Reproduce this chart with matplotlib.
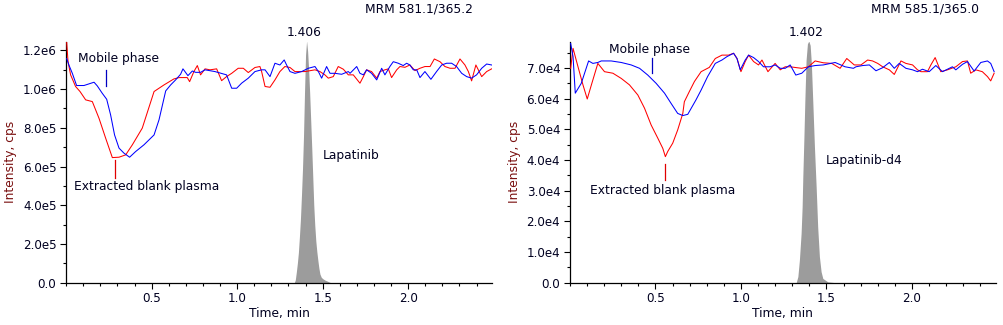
import numpy as np
import matplotlib
matplotlib.use("Agg")
import matplotlib.pyplot as plt
from matplotlib.ticker import MultipleLocator, FuncFormatter

# ---- left panel: MRM 581.1/365.2 (values in 1e5 cps) ----
lap_mp_t = [0.003, 0.016, 0.036, 0.061, 0.104, 0.163, 0.182, 0.211, 0.237, 0.260, 0.283, 0.309, 0.338, 0.371,
            0.406, 0.455, 0.514, 0.543, 0.582, 0.611, 0.640, 0.669, 0.683, 0.712, 0.738, 0.757, 0.786, 0.812,
            0.870, 0.938, 0.968, 0.997, 1.026, 1.065, 1.104, 1.143, 1.163, 1.192, 1.221, 1.250, 1.275, 1.289,
            1.309, 1.338, 1.377, 1.416, 1.455, 1.475, 1.494, 1.523, 1.543, 1.572, 1.611, 1.650, 1.660, 1.699,
            1.718, 1.738, 1.757, 1.786, 1.816, 1.845, 1.864, 1.893, 1.913, 1.942, 1.971, 1.991, 2.010, 2.030,
            2.050, 2.069, 2.098, 2.133, 2.166, 2.196, 2.225, 2.254, 2.283, 2.313, 2.342, 2.371, 2.400, 2.430,
            2.459, 2.488]
lap_mp_v = [11.57, 11.24, 10.81, 10.18, 10.18, 10.35, 10.16, 9.78, 9.47, 8.66, 7.63, 6.95, 6.69, 6.48,
            6.77, 7.12, 7.63, 8.41, 9.90, 10.21, 10.47, 10.76, 11.04, 10.69, 10.93, 10.86, 10.86, 10.99,
            10.90, 10.73, 10.04, 10.04, 10.30, 10.56, 10.90, 10.99, 10.99, 10.64, 11.33, 11.24, 11.50, 11.24,
            10.90, 10.81, 10.90, 11.07, 11.16, 10.90, 10.56, 11.16, 10.81, 10.81, 10.76, 10.90, 10.81, 11.16,
            10.81, 10.73, 10.99, 10.81, 10.47, 11.07, 10.73, 11.16, 11.41, 11.33, 11.21, 11.33, 11.24, 10.99,
            10.99, 10.59, 10.90, 10.50, 10.90, 11.24, 11.33, 11.33, 11.16, 10.81, 10.64, 10.56, 10.73, 11.07,
            11.29, 11.24]

lap_pl_t = [0.003, 0.011, 0.026, 0.055, 0.081, 0.114, 0.153, 0.192, 0.231, 0.270, 0.309, 0.348, 0.387, 0.445,
            0.514, 0.572, 0.630, 0.660, 0.708, 0.722, 0.747, 0.767, 0.786, 0.812, 0.841, 0.880, 0.909, 0.938,
            0.968, 1.006, 1.036, 1.065, 1.104, 1.133, 1.143, 1.163, 1.192, 1.221, 1.250, 1.279, 1.309, 1.338,
            1.397, 1.455, 1.484, 1.513, 1.533, 1.562, 1.591, 1.621, 1.650, 1.679, 1.718, 1.738, 1.757, 1.786,
            1.816, 1.835, 1.864, 1.884, 1.903, 1.933, 1.952, 1.981, 2.010, 2.040, 2.069, 2.098, 2.128, 2.153,
            2.186, 2.215, 2.245, 2.274, 2.303, 2.332, 2.352, 2.371, 2.396, 2.430, 2.459, 2.488]
lap_pl_v = [12.43, 11.41, 10.73, 10.13, 9.87, 9.44, 9.35, 8.49, 7.46, 6.46, 6.48, 6.60, 7.12, 7.98,
            9.87, 10.21, 10.52, 10.59, 10.59, 10.38, 10.90, 11.21, 10.73, 11.04, 10.99, 11.04, 10.43, 10.64,
            10.81, 11.07, 11.07, 10.85, 11.11, 11.16, 10.90, 10.13, 10.09, 10.47, 10.90, 11.16, 11.11, 10.90,
            10.90, 10.99, 10.90, 10.73, 10.56, 10.64, 11.16, 11.02, 10.73, 10.73, 10.30, 10.64, 10.99, 10.90,
            10.56, 10.90, 10.99, 11.04, 10.59, 10.99, 11.16, 11.12, 11.24, 10.95, 11.07, 11.16, 11.16, 11.55,
            11.41, 11.16, 11.07, 11.07, 11.55, 11.24, 10.90, 10.42, 11.24, 10.64, 10.90, 11.04]

lap_pk_t = [1.334, 1.340, 1.346, 1.352, 1.358, 1.364, 1.370, 1.376, 1.382, 1.388, 1.394, 1.400, 1.406,
            1.412, 1.418, 1.424, 1.430, 1.436, 1.442, 1.448, 1.454, 1.460, 1.466, 1.472, 1.478, 1.484,
            1.492, 1.502, 1.515, 1.528, 1.540, 1.548]
lap_pk_v = [0.0, 0.15, 0.55, 1.0, 1.55, 2.36, 3.27, 4.5, 5.85, 7.57, 9.87, 11.77, 12.48,
            11.95, 11.0, 9.8, 8.4, 7.0, 5.5, 4.0, 2.95, 2.15, 1.6, 1.15, 0.75, 0.45,
            0.28, 0.2, 0.13, 0.08, 0.03, 0.0]

# ---- right panel: MRM 585.1/365.0 (values in 1e4 cps) ----
d4_mp_t = [0.004, 0.018, 0.031, 0.066, 0.109, 0.134, 0.163, 0.183, 0.241, 0.300, 0.358, 0.407, 0.455, 0.504,
           0.553, 0.591, 0.630, 0.660, 0.689, 0.737, 0.767, 0.805, 0.850, 0.889, 0.918, 0.957, 0.977, 0.996,
           1.025, 1.045, 1.074, 1.103, 1.132, 1.171, 1.200, 1.230, 1.259, 1.288, 1.321, 1.356, 1.395, 1.434,
           1.482, 1.551, 1.609, 1.658, 1.673, 1.712, 1.751, 1.790, 1.829, 1.868, 1.897, 1.926, 1.965, 2.004,
           2.033, 2.062, 2.101, 2.140, 2.179, 2.208, 2.237, 2.257, 2.296, 2.325, 2.364, 2.403, 2.442, 2.461,
           2.481]
d4_mp_v = [7.80, 7.37, 6.18, 6.50, 7.23, 7.15, 7.18, 7.23, 7.23, 7.18, 7.10, 6.99, 6.77, 6.50,
           6.18, 5.85, 5.52, 5.45, 5.49, 5.96, 6.28, 6.72, 7.15, 7.26, 7.37, 7.48, 7.31, 6.94,
           7.26, 7.42, 7.34, 7.21, 7.04, 7.04, 7.10, 6.99, 6.99, 7.10, 6.77, 6.83, 7.04, 7.08,
           7.10, 7.18, 7.04, 6.99, 7.04, 7.08, 7.10, 6.91, 7.01, 7.18, 6.99, 7.15, 6.99, 6.94,
           6.88, 6.96, 6.88, 7.08, 6.88, 6.96, 7.04, 6.94, 7.12, 7.21, 6.90, 7.18, 7.23, 7.15,
           6.88]

d4_pl_t = [0.004, 0.018, 0.047, 0.076, 0.101, 0.128, 0.163, 0.202, 0.251, 0.300, 0.348, 0.397, 0.436, 0.475,
           0.514, 0.543, 0.558, 0.572, 0.601, 0.630, 0.660, 0.669, 0.698, 0.728, 0.767, 0.815, 0.850, 0.889,
           0.928, 0.957, 0.977, 1.000, 1.025, 1.045, 1.074, 1.103, 1.123, 1.158, 1.200, 1.230, 1.259, 1.288,
           1.327, 1.356, 1.395, 1.434, 1.482, 1.531, 1.580, 1.619, 1.663, 1.702, 1.741, 1.770, 1.800, 1.829,
           1.868, 1.897, 1.936, 1.965, 2.004, 2.033, 2.053, 2.091, 2.111, 2.136, 2.169, 2.208, 2.257, 2.296,
           2.325, 2.344, 2.374, 2.412, 2.442, 2.461, 2.481]
d4_pl_v = [6.99, 7.64, 7.04, 6.45, 5.99, 6.50, 7.15, 6.88, 6.83, 6.66, 6.45, 6.12, 5.69, 5.14,
           4.71, 4.38, 4.11, 4.28, 4.55, 4.98, 5.52, 5.90, 6.23, 6.56, 6.88, 7.02, 7.31, 7.42,
           7.42, 7.48, 7.31, 6.88, 7.21, 7.42, 7.21, 7.10, 7.26, 6.88, 7.15, 6.94, 7.04, 7.04,
           7.01, 6.99, 7.04, 7.23, 7.17, 7.15, 6.99, 7.31, 7.10, 7.10, 7.26, 7.23, 7.15, 7.04,
           6.94, 6.79, 7.23, 7.15, 7.10, 6.94, 6.88, 6.88, 7.10, 7.34, 6.88, 6.94, 7.04, 7.21,
           7.23, 6.83, 6.94, 6.88, 6.72, 6.58, 6.83]

d4_pk_t = [1.323, 1.333, 1.342, 1.352, 1.358, 1.362, 1.368, 1.374, 1.381, 1.389, 1.397, 1.405, 1.412,
           1.420, 1.430, 1.440, 1.449, 1.459, 1.469, 1.479, 1.508, 1.556]
d4_pk_v = [0.0, 0.20, 0.74, 1.61, 2.47, 3.45, 4.65, 5.95, 7.25, 7.79, 7.88, 7.74, 7.14,
           5.95, 4.43, 3.13, 1.82, 0.85, 0.36, 0.14, 0.03, 0.0]

panels = [
    dict(unit=1e5, ymax=12.43, ystep=2.0, yminor=1.0, mrm='MRM 581.1/365.2', rt='1.406', name='Lapatinib',
         mp=(lap_mp_t, lap_mp_v), pl=(lap_pl_t, lap_pl_v), pk=(lap_pk_t, lap_pk_v),
         mp_txt=(0.07, 11.6), mp_tick=(0.231, 10.14, 11.0),
         pl_txt=(0.046, 4.95), pl_tick=(0.287, 5.42, 6.36), name_xy=(1.498, 6.55)),
    dict(unit=1e4, ymax=7.85, ystep=1.0, yminor=0.5, mrm='MRM 585.1/365.0', rt='1.402', name='Lapatinib-d4',
         mp=(d4_mp_t, d4_mp_v), pl=(d4_pl_t, d4_pl_v), pk=(d4_pk_t, d4_pk_v),
         mp_txt=(0.229, 7.61), mp_tick=(0.48, 6.84, 7.34),
         pl_txt=(0.117, 3.0), pl_tick=(0.557, 3.34, 3.86), name_xy=(1.494, 3.97)),
]

TXT = '#000020'
plt.rcParams['font.family'] = ['DejaVu Sans']


def sci_fmt(v, pos):
    if abs(v) < 1e-9:
        return '0.0'
    e = int(np.floor(np.log10(abs(v)) + 1e-9))
    return f'{v / 10 ** e:.1f}e{e}'


fig = plt.figure(figsize=(10.04, 3.25), dpi=100)
boxes = [[0.0659, 0.130, 0.4241, 0.741], [0.5677, 0.130, 0.4240, 0.741]]
mrm_x = [473 / 1004, 979 / 1004]

for p, box, mx in zip(panels, boxes, mrm_x):
    ax = fig.add_axes(box)
    u = p['unit']
    pk_t, pk_v = np.array(p['pk'][0]), np.array(p['pk'][1]) * u
    ax.fill_between(pk_t, pk_v, 0, color='#9c9c9c', lw=0, zorder=1)
    ax.plot(p['pl'][0], np.array(p['pl'][1]) * u, color='#ff0000', lw=0.75, zorder=3)
    ax.plot(p['mp'][0], np.array(p['mp'][1]) * u, color='#0000ff', lw=0.75, zorder=3)

    ax.set_xlim(0, 2.49)
    ax.set_ylim(0, p['ymax'] * u)
    ax.set_xticks([0.5, 1.0, 1.5, 2.0])
    ax.xaxis.set_minor_locator(MultipleLocator(0.1))
    ax.yaxis.set_major_locator(MultipleLocator(p['ystep'] * u))
    ax.yaxis.set_minor_locator(MultipleLocator(p['yminor'] * u))
    ax.yaxis.set_major_formatter(FuncFormatter(sci_fmt))
    ax.xaxis.set_major_formatter(FuncFormatter(lambda v, pos: f'{v:.1f}'))
    ax.tick_params(which='major', length=4, width=0.8, labelsize=8.6, colors='black', labelcolor=TXT, pad=3)
    ax.tick_params(which='minor', length=2.5, width=0.8, colors='black')
    for s in ['top', 'right']:
        ax.spines[s].set_visible(False)
    for s in ['left', 'bottom']:
        ax.spines[s].set_linewidth(0.9)

    ax.set_xlabel('Time, min', fontsize=8.8, color=TXT, labelpad=1)
    ax.set_ylabel('Intensity, cps', fontsize=8.8, color='#7a1010', labelpad=4)

    # annotations
    ax.text(p['mp_txt'][0], p['mp_txt'][1] * u, 'Mobile phase', fontsize=8.8, color=TXT, va='center')
    ax.plot([p['mp_tick'][0]] * 2, [p['mp_tick'][1] * u, p['mp_tick'][2] * u], color='#0000c0', lw=0.9)
    ax.text(p['pl_txt'][0], p['pl_txt'][1] * u, 'Extracted blank plasma', fontsize=8.8, color=TXT, va='center')
    ax.plot([p['pl_tick'][0]] * 2, [p['pl_tick'][1] * u, p['pl_tick'][2] * u], color='#e00000', lw=0.9)
    ax.text(p['name_xy'][0], p['name_xy'][1] * u, p['name'], fontsize=8.8, color=TXT, va='center')

    top = int(np.argmax(pk_v))
    ax.annotate(p['rt'], xy=(pk_t[top], p['ymax'] * u), xytext=(-2, 2), textcoords='offset points',
                ha='center', va='bottom', fontsize=8.8, color=TXT, annotation_clip=False)
    fig.text(mx, 1 - 9.5 / 325, p['mrm'], ha='right', va='center', fontsize=8.8, color=TXT)

fig.savefig('out.png', dpi=100)
